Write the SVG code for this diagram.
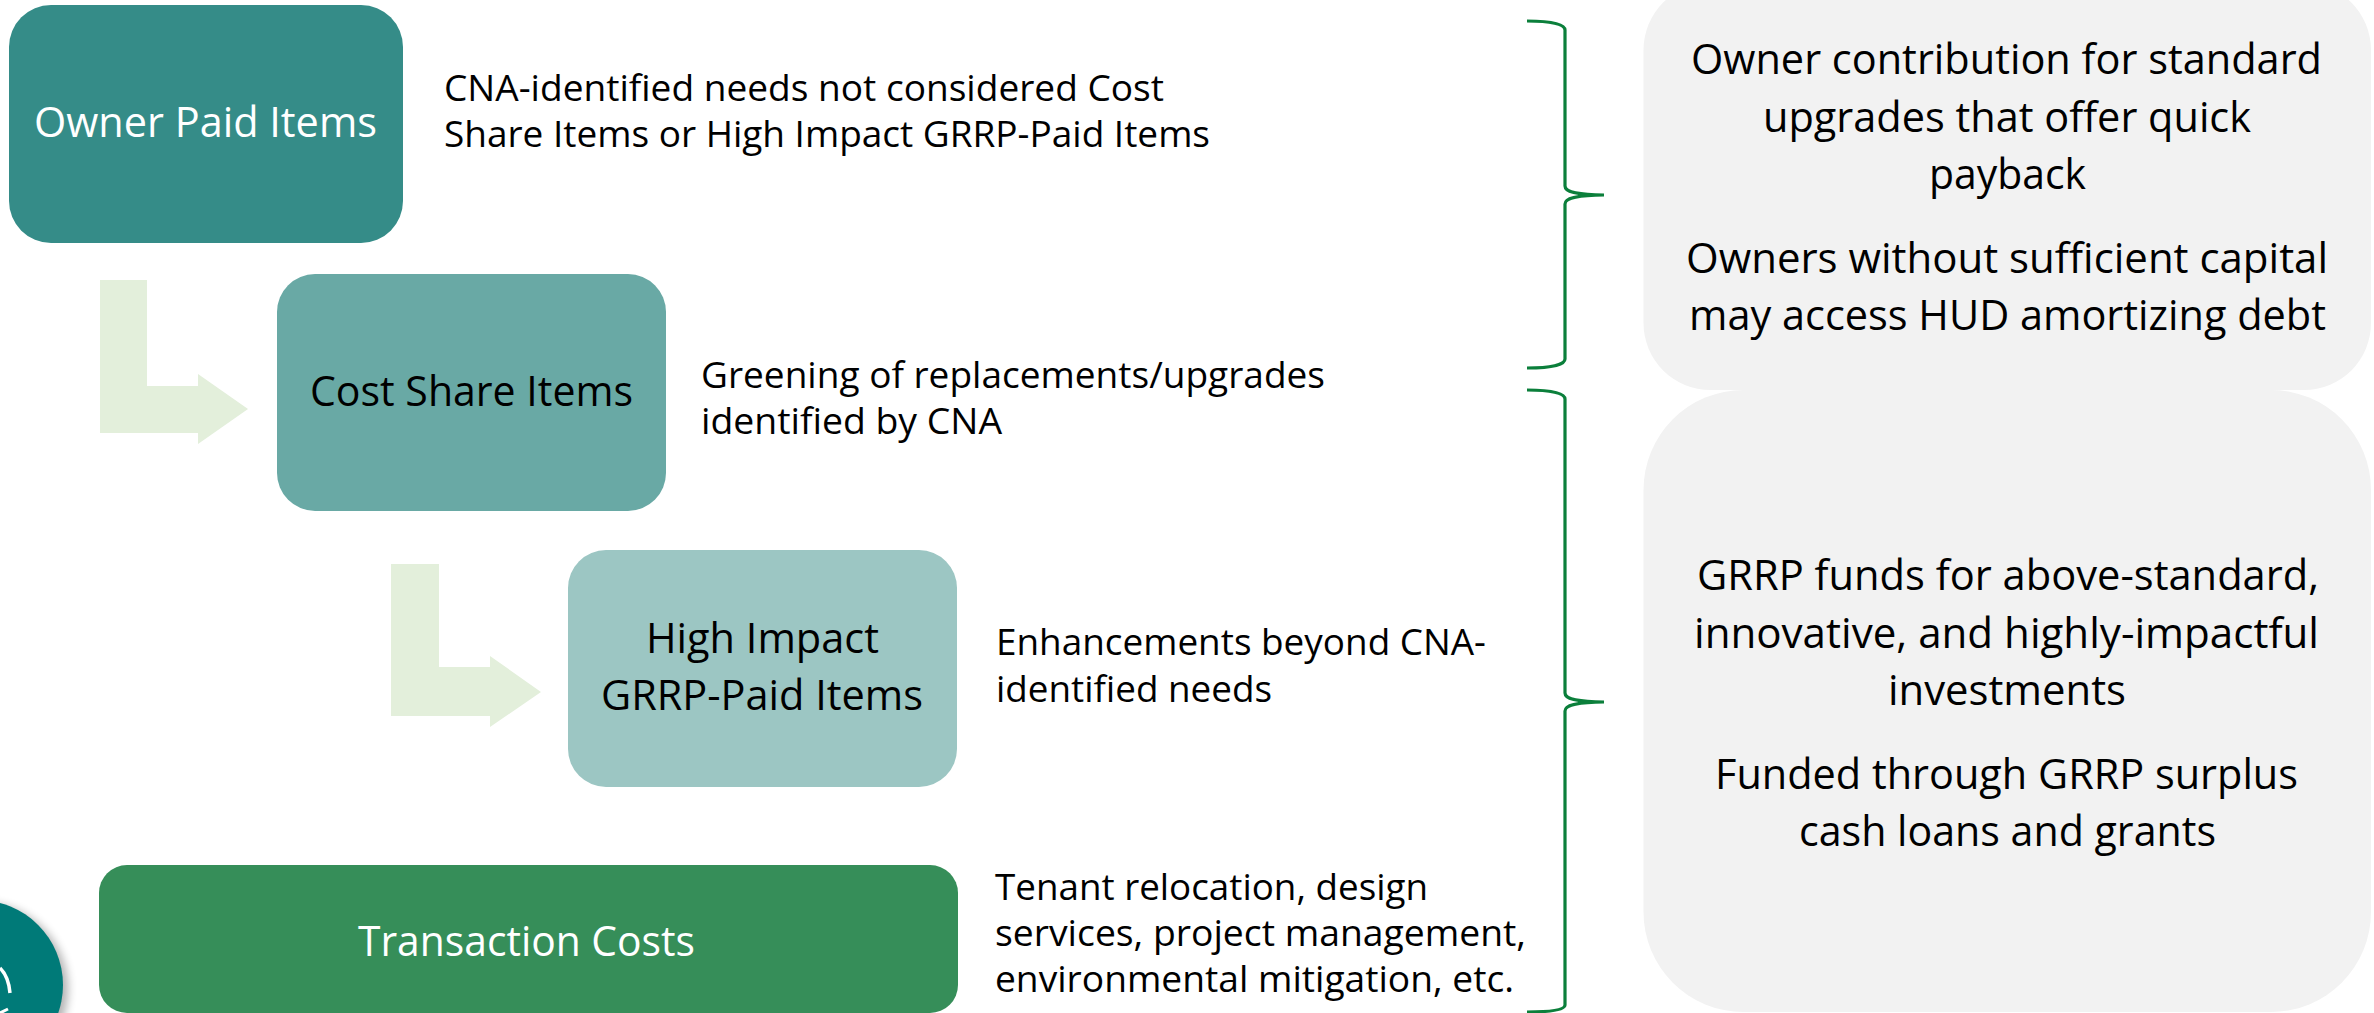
<svg xmlns="http://www.w3.org/2000/svg" width="2374" height="1013" viewBox="0 0 2374 1013">
<style>
text{font-family:"Open Sans","Noto Sans","Liberation Sans",sans-serif;fill:#000}
.t{font-size:42px}
.d{font-size:36px}
.w{fill:#fff}
.arrow{fill:#E3EFDB}
.brace{fill:none;stroke:#0B7F3B;stroke-width:3.2}
.panel{fill:#F2F2F2}
</style>
<defs><filter id="sh" x="-30%" y="-30%" width="170%" height="170%"><feGaussianBlur stdDeviation="5"/></filter></defs>
<rect width="2374" height="1013" fill="#fff"/>
<g id="panel-owner"><rect class="panel" x="1643.5" y="-17" width="727.5" height="407" rx="67" ry="67"/>
<text class="t" x="1691" y="74" textLength="631" lengthAdjust="spacingAndGlyphs">Owner contribution for standard</text>
<text class="t" x="1763" y="132" textLength="488" lengthAdjust="spacingAndGlyphs">upgrades that offer quick</text>
<text class="t" x="1929" y="189" textLength="157" lengthAdjust="spacingAndGlyphs">payback</text>
<text class="t" x="1686" y="273" textLength="642" lengthAdjust="spacingAndGlyphs">Owners without sufficient capital</text>
<text class="t" x="1689" y="330" textLength="637" lengthAdjust="spacingAndGlyphs">may access HUD amortizing debt</text></g>
<g id="panel-grrp"><rect class="panel" x="1643.5" y="390" width="727.5" height="622" rx="100" ry="100"/>
<text class="t" x="1697" y="590" textLength="622" lengthAdjust="spacingAndGlyphs">GRRP funds for above-standard,</text>
<text class="t" x="1694" y="648" textLength="625" lengthAdjust="spacingAndGlyphs">innovative, and highly-impactful</text>
<text class="t" x="1888" y="705" textLength="238" lengthAdjust="spacingAndGlyphs">investments</text>
<text class="t" x="1715" y="789" textLength="583" lengthAdjust="spacingAndGlyphs">Funded through GRRP surplus</text>
<text class="t" x="1799" y="846" textLength="417" lengthAdjust="spacingAndGlyphs">cash loans and grants</text></g>
<g id="connectors">
<polygon class="arrow" points="100,280 147,280 147,386 198,386 198,374 248,409 198,444 198,433 100,433"/>
<polygon class="arrow" points="391,564 439,564 439,667 490,667 490,656 541,692 490,727 490,716 391,716"/>
<path class="brace" d="M1527 21C1550 21 1565 24 1565 30V186C1565 192 1575 194.5 1604 195C1575 195.5 1565 198 1565 204V359C1565 365 1550 368 1527 368"/>
<path class="brace" d="M1527 390C1550 390 1565 393 1565 399V693C1565 699 1575 701.5 1604 702C1575 702.5 1565 705 1565 711V1005C1565 1010 1550 1012 1527 1012"/>
</g>
<g id="owner-paid"><rect x="9" y="5" width="394" height="238" rx="42" fill="#358C88"/>
<text class="t w" x="34" y="137" textLength="343" lengthAdjust="spacingAndGlyphs">Owner Paid Items</text>
<text class="d" x="444" y="101" textLength="720" lengthAdjust="spacingAndGlyphs">CNA-identified needs not considered Cost</text>
<text class="d" x="444" y="147" textLength="766" lengthAdjust="spacingAndGlyphs">Share Items or High Impact GRRP-Paid Items</text></g>
<g id="cost-share"><rect x="277" y="274" width="389" height="237" rx="38" fill="#69A9A5"/>
<text class="t" x="310" y="406" textLength="323" lengthAdjust="spacingAndGlyphs">Cost Share Items</text>
<text class="d" x="701" y="388" textLength="624" lengthAdjust="spacingAndGlyphs">Greening of replacements/upgrades</text>
<text class="d" x="701" y="434" textLength="301" lengthAdjust="spacingAndGlyphs">identified by CNA</text></g>
<g id="high-impact"><rect x="568" y="550" width="389" height="237" rx="38" fill="#9CC6C3"/>
<text class="t" x="646" y="653" textLength="233" lengthAdjust="spacingAndGlyphs">High Impact</text>
<text class="t" x="601" y="710" textLength="322" lengthAdjust="spacingAndGlyphs">GRRP-Paid Items</text>
<text class="d" x="996" y="655" textLength="490" lengthAdjust="spacingAndGlyphs">Enhancements beyond CNA-</text>
<text class="d" x="996" y="702" textLength="276" lengthAdjust="spacingAndGlyphs">identified needs</text></g>
<g id="transaction-costs"><rect x="99" y="865" width="859" height="148" rx="28" fill="#368E59"/>
<text class="t w" x="358" y="956" textLength="337" lengthAdjust="spacingAndGlyphs">Transaction Costs</text>
<text class="d" x="995" y="900" textLength="433" lengthAdjust="spacingAndGlyphs">Tenant relocation, design</text>
<text class="d" x="995" y="946" textLength="531" lengthAdjust="spacingAndGlyphs">services, project management,</text>
<text class="d" x="995" y="992" textLength="519" lengthAdjust="spacingAndGlyphs">environmental mitigation, etc.</text></g>
<g id="badge"><circle cx="-18" cy="989" r="86" fill="#000" opacity=".3" filter="url(#sh)"/>
<circle cx="-22" cy="985" r="85" fill="#007A78"/>
<path d="M0 968C5 973 9 981 10 993" fill="none" stroke="#fff" stroke-width="3.5"/>
<path d="M0 1013L8 1009" fill="none" stroke="#fff" stroke-width="3"/></g>
</svg>
